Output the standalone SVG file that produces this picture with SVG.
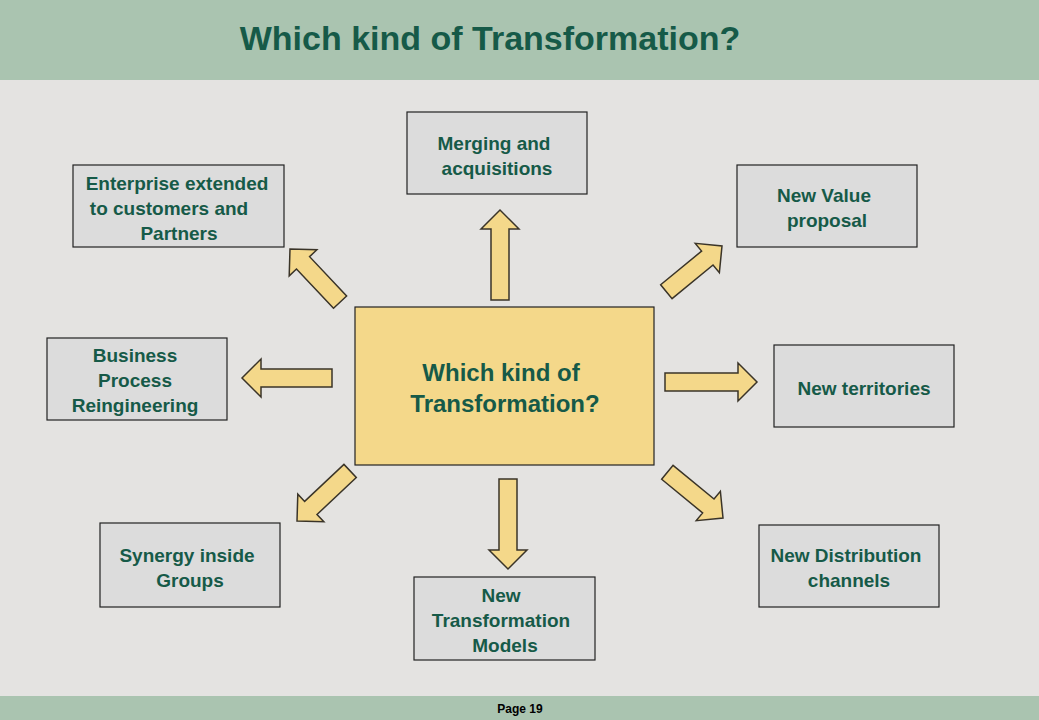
<svg xmlns="http://www.w3.org/2000/svg" width="1039" height="720" viewBox="0 0 1039 720">
<style>
.box{fill:#dcdcdc;stroke:#222;stroke-width:1.2}
.t{font-family:"Liberation Sans",Arial,sans-serif;font-weight:bold;font-size:19px;fill:#165a48;text-anchor:middle}
.ar{fill:#f4d88a;stroke:#3a3428;stroke-width:1.5}
</style>
<defs><polygon id="a" points="0,-9 -19,-9 -19,-19 0,0 -19,19 -19,9 0,9"/></defs>
<rect width="1039" height="720" fill="#e4e3e1"/>
<rect width="1039" height="80" fill="#aac4b0"/>
<rect y="696" width="1039" height="24" fill="#aac4b0"/>
<text x="490" y="50" class="t" style="font-size:34px">Which kind of Transformation?</text>
<text x="520" y="713" style="font-family:'Liberation Sans',Arial,sans-serif;font-weight:bold;font-size:12px;text-anchor:middle">Page  19</text>
<g id="connectors">
<polygon class="ar" transform="translate(500,210) rotate(-90)" points="-90,-9 -19,-9 -19,-19 0,0 -19,19 -19,9 -90,9"/>
<polygon class="ar" transform="translate(508,569) rotate(90)" points="-90,-9 -19,-9 -19,-19 0,0 -19,19 -19,9 -90,9"/>
<polygon class="ar" transform="translate(242,378) rotate(180)" points="-90,-9 -19,-9 -19,-19 0,0 -19,19 -19,9 -90,9"/>
<polygon class="ar" transform="translate(757,382)" points="-92,-9 -19,-9 -19,-19 0,0 -19,19 -19,9 -92,9"/>
<polygon class="ar" transform="translate(290,249) rotate(-133.3)" points="-73,-9 -19,-9 -19,-19 0,0 -19,19 -19,9 -73,9"/>
<polygon class="ar" transform="translate(722,246) rotate(-39.4)" points="-72,-9 -19,-9 -19,-19 0,0 -19,19 -19,9 -72,9"/>
<polygon class="ar" transform="translate(297,521) rotate(136.7)" points="-73,-9 -19,-9 -19,-19 0,0 -19,19 -19,9 -73,9"/>
<polygon class="ar" transform="translate(723,518) rotate(39.4)" points="-72,-9 -19,-9 -19,-19 0,0 -19,19 -19,9 -72,9"/>
</g>
<g id="center"><rect x="355" y="307" width="299" height="158" fill="#f4d88a" stroke="#222" stroke-width="1.2"/>
<text class="t" style="font-size:24px"><tspan x="501" y="381">Which kind of</tspan><tspan x="505" y="412">Transformation?</tspan></text></g>
<g id="merging"><rect class="box" x="407" y="112" width="180" height="82"/><text class="t"><tspan x="494" y="150">Merging and</tspan><tspan x="497" y="175">acquisitions</tspan></text></g>
<g id="enterprise"><rect class="box" x="73" y="165" width="211" height="82"/><text class="t"><tspan x="177" y="190">Enterprise extended</tspan><tspan x="169" y="215">to customers and</tspan><tspan x="179" y="240">Partners</tspan></text></g>
<g id="value"><rect class="box" x="737" y="165" width="180" height="82"/><text class="t"><tspan x="824" y="202">New Value</tspan><tspan x="827" y="227">proposal</tspan></text></g>
<g id="bpr"><rect class="box" x="47" y="338" width="180" height="82"/><text class="t"><tspan x="135" y="362">Business</tspan><tspan x="135" y="387">Process</tspan><tspan x="135" y="412">Reingineering</tspan></text></g>
<g id="territories"><rect class="box" x="774" y="345" width="180" height="82"/><text class="t" x="864" y="395">New territories</text></g>
<g id="synergy"><rect class="box" x="100" y="523" width="180" height="84"/><text class="t"><tspan x="187" y="562">Synergy inside</tspan><tspan x="190" y="587">Groups</tspan></text></g>
<g id="models"><rect class="box" x="414" y="577" width="181" height="83"/><text class="t"><tspan x="501" y="602">New</tspan><tspan x="501" y="627">Transformation</tspan><tspan x="505" y="652">Models</tspan></text></g>
<g id="distribution"><rect class="box" x="759" y="525" width="180" height="82"/><text class="t"><tspan x="846" y="562">New Distribution</tspan><tspan x="849" y="587">channels</tspan></text></g>
</svg>
